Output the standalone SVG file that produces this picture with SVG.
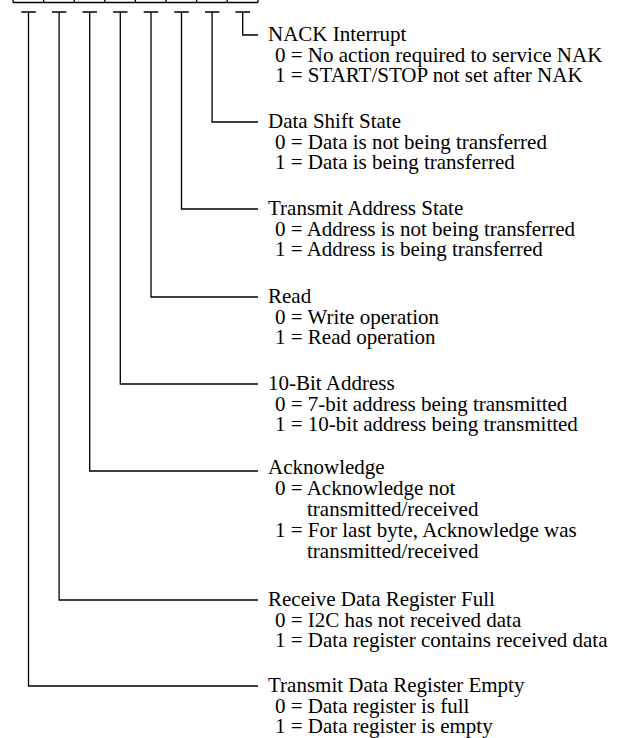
<svg xmlns="http://www.w3.org/2000/svg" width="625" height="738" viewBox="0 0 625 738">
<defs>
<style>
.ln{stroke:#000;stroke-width:1.3;fill:none}
.t{font-family:'Liberation Serif',serif;font-size:21px;fill:#000}
</style>
</defs>
<rect width="625" height="738" fill="#fff"/>
<g id="register">
<path class="ln" d="M13,2.5H258M13,0V2.5M43.6,0V2.5M74.2,0V2.5M104.8,0V2.5M135.4,0V2.5M166,0V2.5M196.6,0V2.5M227.2,0V2.5M258,0V2.5"/>
</g>
<g id="connectors">
<path class="ln" d="M235.5,12H250M242.7,12V35H258"/>
<path class="ln" d="M204.9,12H219.4M212.1,12V122H258"/>
<path class="ln" d="M174.3,12H188.8M181.5,12V209H258"/>
<path class="ln" d="M143.7,12H158.2M151,12V297H258"/>
<path class="ln" d="M113.1,12H127.6M120.3,12V384H258"/>
<path class="ln" d="M82.5,12H97M89.7,12V471H258"/>
<path class="ln" d="M51.9,12H66.4M59.1,12V600H258"/>
<path class="ln" d="M21.3,12H35.8M28.5,12V686H258"/>
</g>
<g id="bit0">
<text class="t" font-family="Liberation Serif" x="268" y="41">NACK Interrupt</text>
<text class="t" font-family="Liberation Serif" x="275" y="61.5">0 = No action required to service NAK</text>
<text class="t" font-family="Liberation Serif" x="275" y="82">1 = START/STOP not set after NAK</text>
</g>
<g id="bit1">
<text class="t" font-family="Liberation Serif" x="268" y="128">Data Shift State</text>
<text class="t" font-family="Liberation Serif" x="275" y="148.5">0 = Data is not being transferred</text>
<text class="t" font-family="Liberation Serif" x="275" y="169">1 = Data is being transferred</text>
</g>
<g id="bit2">
<text class="t" font-family="Liberation Serif" x="268" y="215">Transmit Address State</text>
<text class="t" font-family="Liberation Serif" x="275" y="235.5">0 = Address is not being transferred</text>
<text class="t" font-family="Liberation Serif" x="275" y="256">1 = Address is being transferred</text>
</g>
<g id="bit3">
<text class="t" font-family="Liberation Serif" x="268" y="303">Read</text>
<text class="t" font-family="Liberation Serif" x="275" y="323.5">0 = Write operation</text>
<text class="t" font-family="Liberation Serif" x="275" y="344">1 = Read operation</text>
</g>
<g id="bit4">
<text class="t" font-family="Liberation Serif" x="268" y="390">10-Bit Address</text>
<text class="t" font-family="Liberation Serif" x="275" y="410.5">0 = 7-bit address being transmitted</text>
<text class="t" font-family="Liberation Serif" x="275" y="431">1 = 10-bit address being transmitted</text>
</g>
<g id="bit5">
<text class="t" font-family="Liberation Serif" x="268" y="474">Acknowledge</text>
<text class="t" font-family="Liberation Serif" x="275" y="495">0 = Acknowledge not</text>
<text class="t" font-family="Liberation Serif" x="307" y="516">transmitted/received</text>
<text class="t" font-family="Liberation Serif" x="275" y="537">1 = For last byte, Acknowledge was</text>
<text class="t" font-family="Liberation Serif" x="307" y="558">transmitted/received</text>
</g>
<g id="bit6">
<text class="t" font-family="Liberation Serif" x="268" y="606">Receive Data Register Full</text>
<text class="t" font-family="Liberation Serif" x="275" y="626.5">0 = I2C has not received data</text>
<text class="t" font-family="Liberation Serif" x="275" y="647">1 = Data register contains received data</text>
</g>
<g id="bit7">
<text class="t" font-family="Liberation Serif" x="268" y="692">Transmit Data Register Empty</text>
<text class="t" font-family="Liberation Serif" x="275" y="712.5">0 = Data register is full</text>
<text class="t" font-family="Liberation Serif" x="275" y="733">1 = Data register is empty</text>
</g>
</svg>
